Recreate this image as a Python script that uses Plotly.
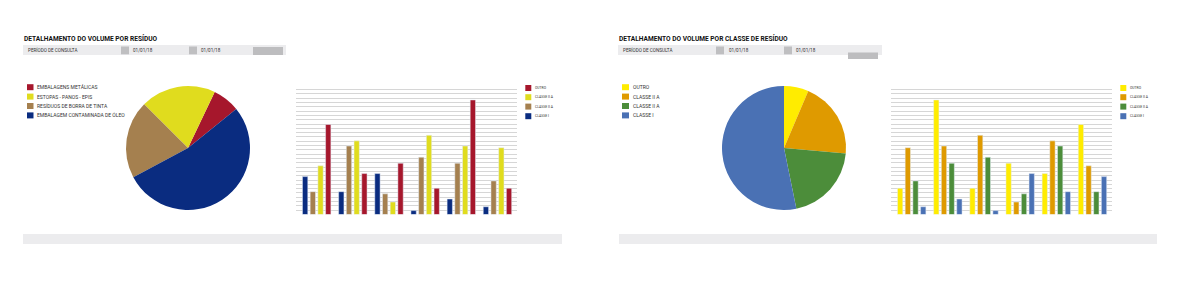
import plotly.graph_objects as go

W, H = 1182, 290


def px(x):
    return x / W


def py(y):
    return 1 - y / H


# ---------------- data ----------------
titulo_esq = "DETALHAMENTO DO VOLUME POR RESÍDUO"
titulo_dir = "DETALHAMENTO DO VOLUME POR CLASSE DE RESÍDUO"
periodo_label = "PERÍODO DE CONSULTA"
data_ini = "01/01/18"
data_fim = "01/01/18"

residuo_labels = ["EMBALAGENS METÁLICAS", "ESTOPAS - PANOS - EPIS",
                  "RESÍDUOS DE BORRA DE TINTA", "EMBALAGEM CONTAMINADA DE ÓLEO"]
residuo_values = [7.1, 19.6, 20.3, 53.0]
residuo_colors = ["#a6172c", "#e0dc1e", "#a5804f", "#0a2c80"]

classe_labels = ["OUTRO", "CLASSE II A", "CLASSE II A", "CLASSE I"]
classe_values = [6.4, 20.0, 20.4, 53.2]
classe_colors = ["#ffec00", "#df9a00", "#4c8d3a", "#4a71b4"]

grupos = [0, 1, 2, 3, 4, 5]

# left bar chart (order inside each group: CLASSE I, CLASSE II A (brown), CLASSE II A (yellow), OUTRO)
esq_names = ["CLASSE I", "CLASSE II A", "CLASSE II A", "OUTRO"]
esq_colors = ["#0a2c80", "#a5804f", "#e0dc1e", "#a6172c"]
esq_classe_i = [8.8, 5.3, 9.5, 0.9, 3.6, 1.8]
esq_classe_iia_b = [5.3, 15.9, 4.8, 13.3, 11.9, 7.8]
esq_classe_iia_y = [11.3, 17.1, 2.9, 18.4, 15.9, 15.5]
esq_outro = [20.9, 9.5, 11.9, 6.1, 26.6, 6.1]

# right bar chart (order: OUTRO, CLASSE II A (orange), CLASSE II A (green), CLASSE I)
dir_names = ["OUTRO", "CLASSE II A", "CLASSE II A", "CLASSE I"]
dir_colors = ["#ffec00", "#df9a00", "#4c8d3a", "#4a71b4"]
dir_outro = [6.1, 26.6, 6.1, 11.9, 9.5, 20.9]
dir_classe_iia_o = [15.5, 15.9, 18.4, 2.9, 17.1, 11.3]
dir_classe_iia_g = [7.8, 11.9, 13.3, 4.8, 15.9, 5.3]
dir_classe_i = [1.8, 3.6, 0.9, 9.5, 5.3, 8.8]

bar_legend_esq = ["OUTRO", "CLASSE II A", "CLASSE II A", "CLASSE I"]
bar_legend_esq_colors = ["#a6172c", "#e0dc1e", "#a5804f", "#0a2c80"]
bar_legend_dir = ["OUTRO", "CLASSE II A", "CLASSE II A", "CLASSE I"]
bar_legend_dir_colors = ["#ffec00", "#df9a00", "#4c8d3a", "#4a71b4"]

# ---------------- figure ----------------
fig = go.Figure()

fig.add_trace(go.Pie(
    labels=list(range(len(residuo_labels))), values=residuo_values, sort=False,
    hovertext=residuo_labels,
    direction="counterclockwise", rotation=25.5,
    marker=dict(colors=residuo_colors, line=dict(width=0)),
    textinfo="none", hoverinfo="text+percent", showlegend=False,
    domain=dict(x=[px(126), px(250)], y=[py(210), py(86)]),
))
fig.add_trace(go.Pie(
    labels=list(range(len(classe_labels))), values=classe_values, sort=False,
    hovertext=classe_labels,
    direction="clockwise", rotation=0,
    marker=dict(colors=classe_colors, line=dict(width=0)),
    textinfo="none", hoverinfo="text+percent", showlegend=False,
    domain=dict(x=[px(722), px(846)], y=[py(210), py(86)]),
))

for name, color, vals in zip(esq_names, esq_colors,
                             [esq_classe_i, esq_classe_iia_b, esq_classe_iia_y, esq_outro]):
    fig.add_trace(go.Bar(x=grupos, y=vals, name=name, marker_color=color,
                         xaxis="x", yaxis="y", showlegend=False))
for name, color, vals in zip(dir_names, dir_colors,
                             [dir_outro, dir_classe_iia_o, dir_classe_iia_g, dir_classe_i]):
    fig.add_trace(go.Bar(x=grupos, y=vals, name=name, marker_color=color,
                         xaxis="x2", yaxis="y2", showlegend=False))

xr = [-0.572, 5.54]
yr = [0, 30]
axis_common_x = dict(range=xr, showticklabels=False, showgrid=False, zeroline=False,
                     showline=False, ticks="", fixedrange=True)
axis_common_y = dict(range=yr, dtick=1, showticklabels=False, showgrid=True,
                     gridcolor="#d6d6d6", gridwidth=1, zeroline=False, showline=False,
                     ticks="", fixedrange=True)

fig.update_layout(
    width=W, height=H,
    margin=dict(l=0, r=0, t=0, b=0),
    paper_bgcolor="white", plot_bgcolor="white",
    barmode="group", bargap=0.148, bargroupgap=0.31,
    xaxis=dict(domain=[px(296), px(517)], anchor="y", **axis_common_x),
    yaxis=dict(domain=[py(214.5), py(85.3)], anchor="x", **axis_common_y),
    xaxis2=dict(domain=[px(891), px(1112)], anchor="y2", **axis_common_x),
    yaxis2=dict(domain=[py(214.5), py(85.3)], anchor="x2", **axis_common_y),
    font=dict(family="Roboto", color="#333333"),
)

shapes = []
annotations = []


def rect(x0, y0, x1, y1, color):
    shapes.append(dict(type="rect", xref="paper", yref="paper",
                       x0=px(x0), x1=px(x1), y0=py(y1), y1=py(y0),
                       fillcolor=color, line=dict(width=0), layer="below"))


def text(x, y, s, size, color="#333333", bold=False):
    annotations.append(dict(xref="paper", yref="paper", x=px(x), y=py(y),
                            text=("<b>%s</b>" % s) if bold else s,
                            showarrow=False, xanchor="left", yanchor="middle",
                            font=dict(size=size, color=color, family="Roboto"),
                            borderpad=0))


# headers
for (ox, title, bar_x1, sq1, sq2, t1, t2, rx0, rx1, ry0, ry1) in [
    (0, titulo_esq, 286, 121, 189, 132, 200, 253, 283, 47, 55),
    (595, titulo_dir, 882 - 595, 716 - 595, 784 - 595, 728 - 595, 795 - 595, 848 - 595, 878 - 595, 52.5, 59),
]:
    text(23 + ox, 38, title, 6.6, color="#111111", bold=True)
    rect(23 + ox, 45, bar_x1 + ox, 55, "#ececee")
    text(27 + ox, 50.3, periodo_label, 4.6)
    rect(sq1 + ox, 46.5, sq1 + 8 + ox, 54.3, "#bfbfc1")
    text(t1 + ox, 50.3, data_ini, 4.6)
    rect(sq2 + ox, 46.5, sq2 + 8 + ox, 54.3, "#bfbfc1")
    text(t2 + ox, 50.3, data_fim, 4.6)
    rect(rx0 + ox, ry0, rx1 + ox, ry1, "#bdbdbf")

# bottom bars
rect(23, 234, 562, 244, "#ececee")
rect(619, 234, 1157, 244, "#ececee")

# pie legends
rows = [87.2, 96.6, 106.0, 115.4]
for lab, col, yy in zip(residuo_labels, residuo_colors, rows):
    rect(27, yy - 3, 33.5, yy + 3, col)
    text(36, yy, lab, 5.0)
for lab, col, yy in zip(classe_labels, classe_colors, rows):
    rect(622, yy - 3, 629, yy + 3, col)
    text(632, yy, lab, 5.0)

# bar legends
brows = [88.0, 97.2, 106.6, 116.2]
for lab, col, yy in zip(bar_legend_esq, bar_legend_esq_colors, brows):
    rect(525.3, yy - 3, 531.3, yy + 3, col)
    text(534, yy, lab, 3.4)
for lab, col, yy in zip(bar_legend_dir, bar_legend_dir_colors, brows):
    rect(1120.3, yy - 3, 1126.3, yy + 3, col)
    text(1129, yy, lab, 3.4)

fig.update_layout(shapes=shapes, annotations=annotations)

fig.write_html("out.html")
